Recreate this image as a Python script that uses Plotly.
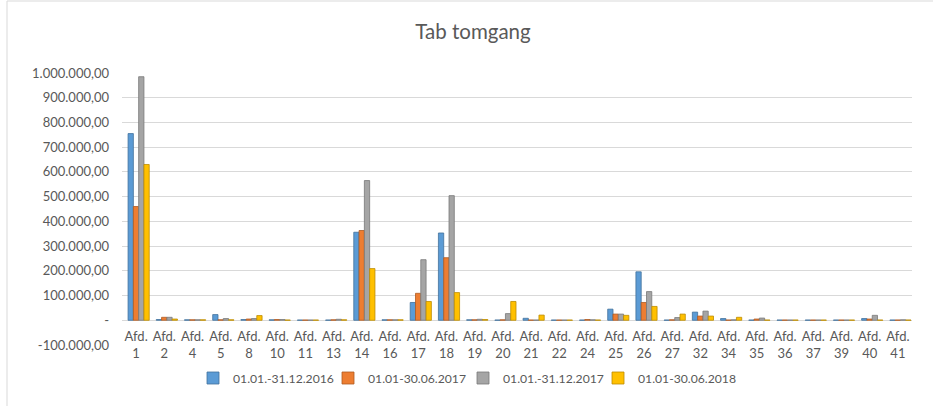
import plotly.graph_objects as go

categories = ["1", "2", "4", "5", "8", "10", "11", "13", "14", "16", "17", "18", "19", "20",
              "21", "22", "24", "25", "26", "27", "32", "34", "35", "36", "37", "39", "40", "41"]

s2016 = [755000, 3000, 2000, 23000, 3000, 2000, 1000, 1000, 356000, 2000, 72000, 353000, 2000, 1000,
         8000, 1000, 1000, 45000, 196000, 1000, 33000, 7000, 1000, 1000, 1000, 1000, 7000, 1000]
s2017h1 = [460000, 12000, 2000, 2000, 5000, 3000, 1000, 2000, 363000, 2000, 109000, 253000, 2000, 2000,
           1000, 1000, 3000, 25000, 72000, 2000, 17000, 1000, 5000, 1000, 1000, 1000, 5000, 1000]
s2017 = [985000, 12000, 2000, 7000, 7000, 3000, 1000, 4000, 565000, 2000, 245000, 504000, 4000, 27000,
         1000, 1000, 2000, 25000, 116000, 11000, 37000, 2000, 9000, 1000, 1000, 1000, 20000, 2000]
s2018h1 = [630000, 5000, 2000, 2000, 19000, 1000, 1000, 2000, 209000, 2000, 76000, 112000, 3000, 76000,
           21000, 1000, 1000, 20000, 56000, 25000, 17000, 12000, 1000, 1000, 1000, 1000, 1000, 1000]

series_names = ["01.01.-31.12.2016", "01.01-30.06.2017", "01.01.-31.12.2017", "01.01-30.06.2018"]
series_colors = ["#5B9BD5", "#ED7D31", "#A5A5A5", "#FFC000"]
edge_colors = ["#41719C", "#AE5A21", "#787878", "#BC8C00"]
legend_widths = [90, 90, 90, 115]

y_tickvals = [-100000, 0, 100000, 200000, 300000, 400000, 500000, 600000, 700000, 800000, 900000, 1000000]
y_ticktext = ["-100.000,00", "-", "100.000,00", "200.000,00", "300.000,00", "400.000,00",
              "500.000,00", "600.000,00", "700.000,00", "800.000,00", "900.000,00", "1.000.000,00"]

x_ticktext = ["Afd.<br>" + c for c in categories]

# bar geometry (category units): 4 bars of equal width, cluster nudged slightly right
BAR_W = 0.1875
SHIFT = 0.09

fig = go.Figure()
for i, (name, vals, col, ec, lw) in enumerate(zip(series_names, [s2016, s2017h1, s2017, s2018h1],
                                                  series_colors, edge_colors, legend_widths)):
    fig.add_trace(go.Bar(x=categories, y=vals, name=name, legendwidth=lw,
                         width=BAR_W, offset=-2 * BAR_W + i * BAR_W + SHIFT,
                         marker=dict(color=col, line=dict(color=ec, width=0.8))))

W, H = 933, 406
L, R, T, B = 122, 21, 73, 61
pw, ph = W - L - R, H - T - B
ymin, ymax = -100000, 1000000
zero_frac = (0 - ymin) / (ymax - ymin)
FONT = "Lato"
GREY = "#595959"

fig.update_layout(
    width=W, height=H,
    margin=dict(l=L, r=R, t=T, b=B),
    paper_bgcolor="white", plot_bgcolor="white",
    font=dict(family=FONT, size=13, color=GREY),
    title=dict(text="Tab tomgang", x=473 / W, xref="container", xanchor="center",
               y=1 - 32 / H, yref="container", yanchor="middle",
               font=dict(family=FONT, size=20.5, color=GREY)),
    barmode="overlay",
    showlegend=True,
    legend=dict(orientation="h", x=(193 - L) / pw, xanchor="left",
                y=(H - B - 378) / ph, yanchor="middle",
                font=dict(family=FONT, size=12.2, color=GREY),
                bgcolor="rgba(0,0,0,0)"),
    xaxis=dict(type="category", anchor="free", position=zero_frac,
               tickvals=categories, ticktext=x_ticktext,
               showgrid=False, showline=False, zeroline=False,
               ticks="outside", ticklen=4, tickcolor="rgba(0,0,0,0)",
               tickfont=dict(family=FONT, size=13, color=GREY)),
    yaxis=dict(range=[ymin, ymax], tickvals=y_tickvals, ticktext=y_ticktext,
               showgrid=True, gridcolor="#D9D9D9", gridwidth=1,
               zeroline=True, zerolinecolor="#D9D9D9", zerolinewidth=1,
               showline=False, ticks="", ticklabelstandoff=12,
               tickfont=dict(family=FONT, size=13, color=GREY)),
    shapes=[dict(type="rect", xref="paper", yref="paper",
                 x0=(7 - L) / pw, x1=(W + 10 - L) / pw,
                 y0=(H - B - (H + 10)) / ph, y1=(H - B - 1) / ph,
                 line=dict(color="#D9D9D9", width=1), fillcolor="rgba(0,0,0,0)", layer="below")],
)

fig.write_html("out.html", config={"displayModeBar": False},
               post_script="document.body.style.margin='0px';")
